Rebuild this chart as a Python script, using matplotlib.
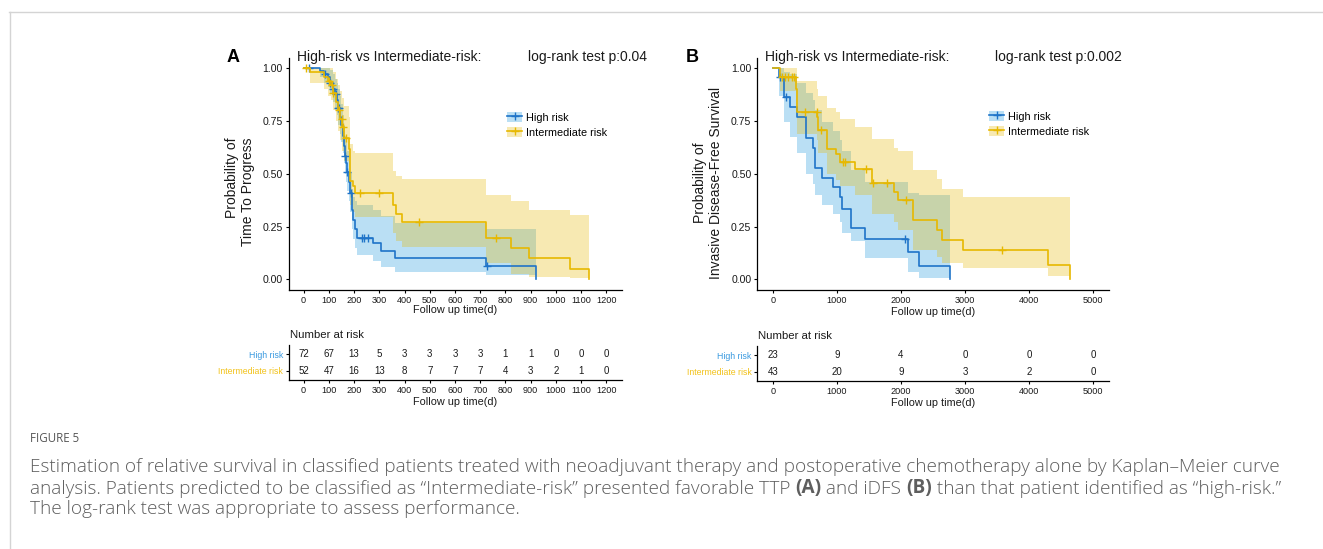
import numpy as np
import matplotlib
matplotlib.use("Agg")
import matplotlib.pyplot as plt
from matplotlib.patches import Patch
from matplotlib.lines import Line2D

plt.rcParams['font.family'] = ['Liberation Sans', 'DejaVu Sans']

# ---------------- data ----------------
# Panel A (Time To Progress)
hiA_t = [0, 65, 80, 95, 105, 115, 125, 132, 138, 144, 150, 155, 160, 164, 168, 173, 178, 184, 190, 197, 204, 210, 276, 306, 364, 722, 923]
hiA_s = [1.0, .986, .972, .958, .93, .90, .875, .85, .81, .77, .73, .68, .63, .585, .55, .51, .46, .41, .327, .28, .24, .198, .171, .136, .10, .065, 0]
hiA_lo = [1.0, .96, .93, .91, .875, .84, .81, .78, .73, .69, .65, .60, .55, .50, .46, .42, .37, .32, .24, .19, .15, .116, .085, .06, .036, .02, 0]
hiA_hi = [1.0, 1.0, 1.0, 1.0, .99, .97, .95, .93, .90, .87, .83, .78, .73, .68, .65, .61, .56, .51, .43, .39, .37, .354, .33, .298, .267, .238, 0]
hiA_c = [20, 85, 105, 115, 128, 138, 142, 164, 173, 186, 230, 239, 256, 726]

imA_t = [0, 25, 80, 95, 110, 118, 128, 138, 146, 152, 160, 178, 184, 194, 204, 354, 368, 391, 722, 820, 895, 1057, 1133]
imA_s = [1.0, .98, .96, .94, .92, .88, .84, .80, .76, .72, .67, .615, .465, .44, .41, .354, .31, .274, .195, .148, .10, .049, 0]
imA_lo = [1.0, .93, .90, .87, .85, .80, .75, .70, .66, .61, .56, .50, .35, .32, .297, .22, .18, .155, .076, .028, .012, .005, 0]
imA_hi = [1.0, 1.0, 1.0, 1.0, 1.0, .98, .95, .92, .89, .86, .82, .77, .64, .61, .60, .512, .49, .473, .40, .37, .33, .306, 0]
imA_c = [8, 102, 111, 118, 142, 151, 158, 168, 223, 299, 459, 764]

riskA_times = [0, 100, 200, 300, 400, 500, 600, 700, 800, 900, 1000, 1100, 1200]
riskA_high = [72, 67, 13, 5, 3, 3, 3, 3, 1, 1, 0, 0, 0]
riskA_inter = [52, 47, 16, 13, 8, 7, 7, 7, 4, 3, 2, 1, 0]

# Panel B (Invasive Disease-Free Survival)
hiB_t = [0, 95, 172, 266, 380, 516, 620, 656, 760, 943, 1047, 1073, 1219, 1437, 2115, 2286, 2766]
hiB_s = [1, .957, .862, .818, .768, .67, .623, .529, .48, .435, .388, .335, .241, .19, .128, .063, 0]
hiB_lo = [1, .87, .744, .674, .60, .50, .45, .40, .35, .31, .27, .22, .18, .10, .037, .006, 0]
hiB_hi = [1, 1, .98, .97, .93, .88, .85, .80, .745, .70, .66, .61, .52, .46, .41, .40, 0]
hiB_c = [109, 203, 2063]

imB_t = [0, 109, 359, 368, 380, 690, 705, 839, 984, 1047, 1281, 1542, 1891, 1958, 2182, 2557, 2645, 2964, 4302, 4645]
imB_s = [1, .956, .90, .84, .792, .768, .706, .618, .595, .556, .524, .457, .414, .375, .28, .233, .186, .139, .068, 0]
imB_lo = [1, .89, .82, .76, .69, .66, .60, .50, .47, .44, .40, .31, .27, .234, .14, .107, .08, .052, .014, 0]
imB_hi = [1, 1, 1, .97, .94, .90, .87, .81, .79, .76, .72, .666, .62, .61, .516, .477, .43, .39, .39, 0]
imB_c = [135, 187, 240, 292, 328, 505, 687, 750, 1089, 1125, 1453, 1568, 1786, 2078, 3573]

riskB_times = [0, 1000, 2000, 3000, 4000, 5000]
riskB_high = [23, 9, 4, 0, 0, 0]
riskB_inter = [43, 20, 9, 3, 2, 0]

group_labels = ["High risk", "Intermediate risk"]
yticks = [0, 0.25, 0.5, 0.75, 1.0]
ytick_labels = ["0.00", "0.25", "0.50", "0.75", "1.00"]

# ---------------- style ----------------
BLUE_LINE = "#1f74c8"
BLUE_FILL = "#2E9FDF"
YEL_LINE = "#E7B800"
YEL_FILL = "#E7B800"
BLUE_TXT = "#3a9ae0"
YEL_TXT = "#f2c21a"
TXT = "#1a1a1a"

W, H = 1323, 549
fig = plt.figure(figsize=(W / 100, H / 100), dpi=100)
fig.patch.set_facecolor("white")


def ax_px(l, t, r, b):
    return fig.add_axes([l / W, 1 - b / H, (r - l) / W, (b - t) / H])


def fx(x):
    return x / W


def fy(y):
    return 1 - y / H


def style_axes(ax):
    for s in ["top", "right"]:
        ax.spines[s].set_visible(False)
    for s in ["left", "bottom"]:
        ax.spines[s].set_linewidth(0.9)
        ax.spines[s].set_color("black")
    ax.tick_params(direction="out", length=2.5, width=0.8, colors="black", labelcolor=TXT, pad=1.5)


def km(ax, t, s, lo, hi, cens, lc, fc, falpha):
    t = np.asarray(t, float)
    s = np.asarray(s, float)
    ax.fill_between(t, lo, hi, step="post", color=fc, alpha=falpha, lw=0)
    ax.step(t, s, where="post", color=lc, lw=1.2)
    c = np.asarray(cens, float)
    idx = np.searchsorted(t, c, side="right") - 1
    ax.plot(c, s[idx], ls="none", marker="+", ms=5.5, mew=1.0, color=lc)


def panel(l, r, xlim, xticks, hi, im, legend_xy):
    ax = ax_px(l, 57.5, r, 290)
    style_axes(ax)
    km(ax, *hi, BLUE_LINE, BLUE_FILL, 0.33)
    km(ax, *im, YEL_LINE, YEL_FILL, 0.30)
    ax.set_xlim(*xlim)
    ax.set_ylim(-0.05, 1.05)
    ax.set_xticks(xticks)
    ax.set_xticklabels([str(v) for v in xticks], fontsize=6.6)
    ax.set_yticks(yticks)
    ax.set_yticklabels(ytick_labels, fontsize=7.6)
    handles = [
        (Patch(facecolor=BLUE_FILL, alpha=0.33, lw=0), Line2D([], [], color=BLUE_LINE, lw=1.2, marker="+", ms=5.5)),
        (Patch(facecolor=YEL_FILL, alpha=0.30, lw=0), Line2D([], [], color=YEL_LINE, lw=1.2, marker="+", ms=5.5)),
    ]
    ax.legend(handles, group_labels, loc="upper left",
              bbox_to_anchor=(fx(legend_xy[0]), fy(legend_xy[1])), bbox_transform=fig.transFigure,
              frameon=False, fontsize=7.8, handlelength=1.4, handleheight=1.1,
              labelspacing=0.38, borderpad=0, borderaxespad=0, handletextpad=0.4)
    return ax


def risk_table(l, t, r, b, xlim, times, high, inter):
    ax = ax_px(l, t, r, b)
    style_axes(ax)
    ax.set_xlim(*xlim)
    ax.set_ylim(-0.53, 1.53)
    for tm, v in zip(times, high):
        ax.text(tm, 1, str(v), ha="center", va="center", fontsize=7, color=TXT)
    for tm, v in zip(times, inter):
        ax.text(tm, 0, str(v), ha="center", va="center", fontsize=7, color=TXT)
    ax.set_xticks(times)
    ax.set_xticklabels([str(v) for v in times], fontsize=6.6)
    ax.set_yticks([1, 0])
    ax.set_yticklabels(group_labels, fontsize=6.3)
    ax.get_yticklabels()[0].set_color(BLUE_TXT)
    ax.get_yticklabels()[1].set_color(YEL_TXT)
    return ax


# Panel A
panel(288.5, 621.5, (-60, 1260), riskA_times, (hiA_t, hiA_s, hiA_lo, hiA_hi, hiA_c),
      (imA_t, imA_s, imA_lo, imA_hi, imA_c), (507, 112))
risk_table(288.5, 345, 621.5, 380, (-60, 1260), riskA_times, riskA_high, riskA_inter)

# Panel B
panel(757, 1109, (-250, 5250), riskB_times, (hiB_t, hiB_s, hiB_lo, hiB_hi, hiB_c),
      (imB_t, imB_s, imB_lo, imB_hi, imB_c), (989, 111))
risk_table(757, 346, 1109, 381, (-250, 5250), riskB_times, riskB_high, riskB_inter)

# titles and labels
fig.text(fx(233), fy(57), "A", fontsize=13, fontweight="bold", ha="center", va="center", color="black")
fig.text(fx(692), fy(57), "B", fontsize=13, fontweight="bold", ha="center", va="center", color="black")
fig.text(fx(297), fy(57), "High-risk vs Intermediate-risk:", fontsize=10, ha="left", va="center", color=TXT)
fig.text(fx(528), fy(57), "log-rank test p:0.04", fontsize=10, ha="left", va="center", color=TXT)
fig.text(fx(765), fy(57), "High-risk vs Intermediate-risk:", fontsize=10, ha="left", va="center", color=TXT)
fig.text(fx(995), fy(57), "log-rank test p:0.002", fontsize=10, ha="left", va="center", color=TXT)

fig.text(fx(240), fy(192), "Probability of\nTime To Progress", rotation=90, fontsize=10,
         ha="center", va="center", multialignment="right", linespacing=1.1, color=TXT)
fig.text(fx(708), fy(183), "Probability of\nInvasive Disease-Free Survival", rotation=90, fontsize=10,
         ha="center", va="center", multialignment="center", linespacing=1.1, color=TXT)

fig.text(fx(455), fy(310), "Follow up time(d)", fontsize=7.8, ha="center", va="center", color=TXT)
fig.text(fx(933), fy(312), "Follow up time(d)", fontsize=7.8, ha="center", va="center", color=TXT)
fig.text(fx(455), fy(402), "Follow up time(d)", fontsize=7.8, ha="center", va="center", color=TXT)
fig.text(fx(933), fy(403), "Follow up time(d)", fontsize=7.8, ha="center", va="center", color=TXT)

fig.text(fx(290), fy(335), "Number at risk", fontsize=8.2, ha="left", va="center", color=TXT)
fig.text(fx(758), fy(336), "Number at risk", fontsize=8.2, ha="left", va="center", color=TXT)

# page frame lines
fig.add_artist(Line2D([fx(9), 1], [fy(11.5), fy(11.5)], transform=fig.transFigure, color="#d4d4d4", lw=1))
fig.add_artist(Line2D([fx(9.5), fx(9.5)], [fy(11.5), 0], transform=fig.transFigure, color="#d4d4d4", lw=1))

# caption
CAP_FONT = ["Open Sans", "DejaVu Sans"]
CAP_COL = "#5e5e5e"
renderer = fig.canvas.get_renderer()


def plain_width(s, size, weight):
    t = fig.text(0, 0, s, fontsize=size, fontweight=weight, family=CAP_FONT)
    w = t.get_window_extent(renderer).width
    t.remove()
    return w


def text_width(s, size, weight="normal"):
    return plain_width(s + "|", size, weight) - plain_width("|", size, weight)


line1 = "Estimation of relative survival in classified patients treated with neoadjuvant therapy and postoperative chemotherapy alone by Kaplan\u2013Meier curve"
target = (1283 - 30) * 0.997
cap_size = 10.0
for _ in range(3):
    cap_size *= target / plain_width(line1, cap_size, "light")


def draw_runs(x, y, runs):
    # y is the text baseline in pixels
    for s, wt in runs:
        fig.text(fx(x), fy(y), s, fontsize=cap_size, fontweight=wt, family=CAP_FONT,
                 color=CAP_COL, ha="left", va="baseline")
        x += text_width(s, cap_size, wt)


fig.text(fx(30), fy(441.5), "FIGURE 5", fontsize=8.3, family=CAP_FONT, color="#555555",
         ha="left", va="baseline")
draw_runs(30, 472.5, [(line1, "light")])
draw_runs(30, 493.5, [
    ("analysis. Patients predicted to be classified as \u201cIntermediate-risk\u201d presented favorable TTP ", "light"),
    ("(A)", "bold"),
    (" and iDFS ", "light"),
    ("(B)", "bold"),
    (" than that patient identified as \u201chigh-risk.\u201d", "light"),
])
draw_runs(30, 513.5, [("The log-rank test was appropriate to assess performance.", "light")])

fig.savefig("out.png", dpi=100, facecolor="white")
